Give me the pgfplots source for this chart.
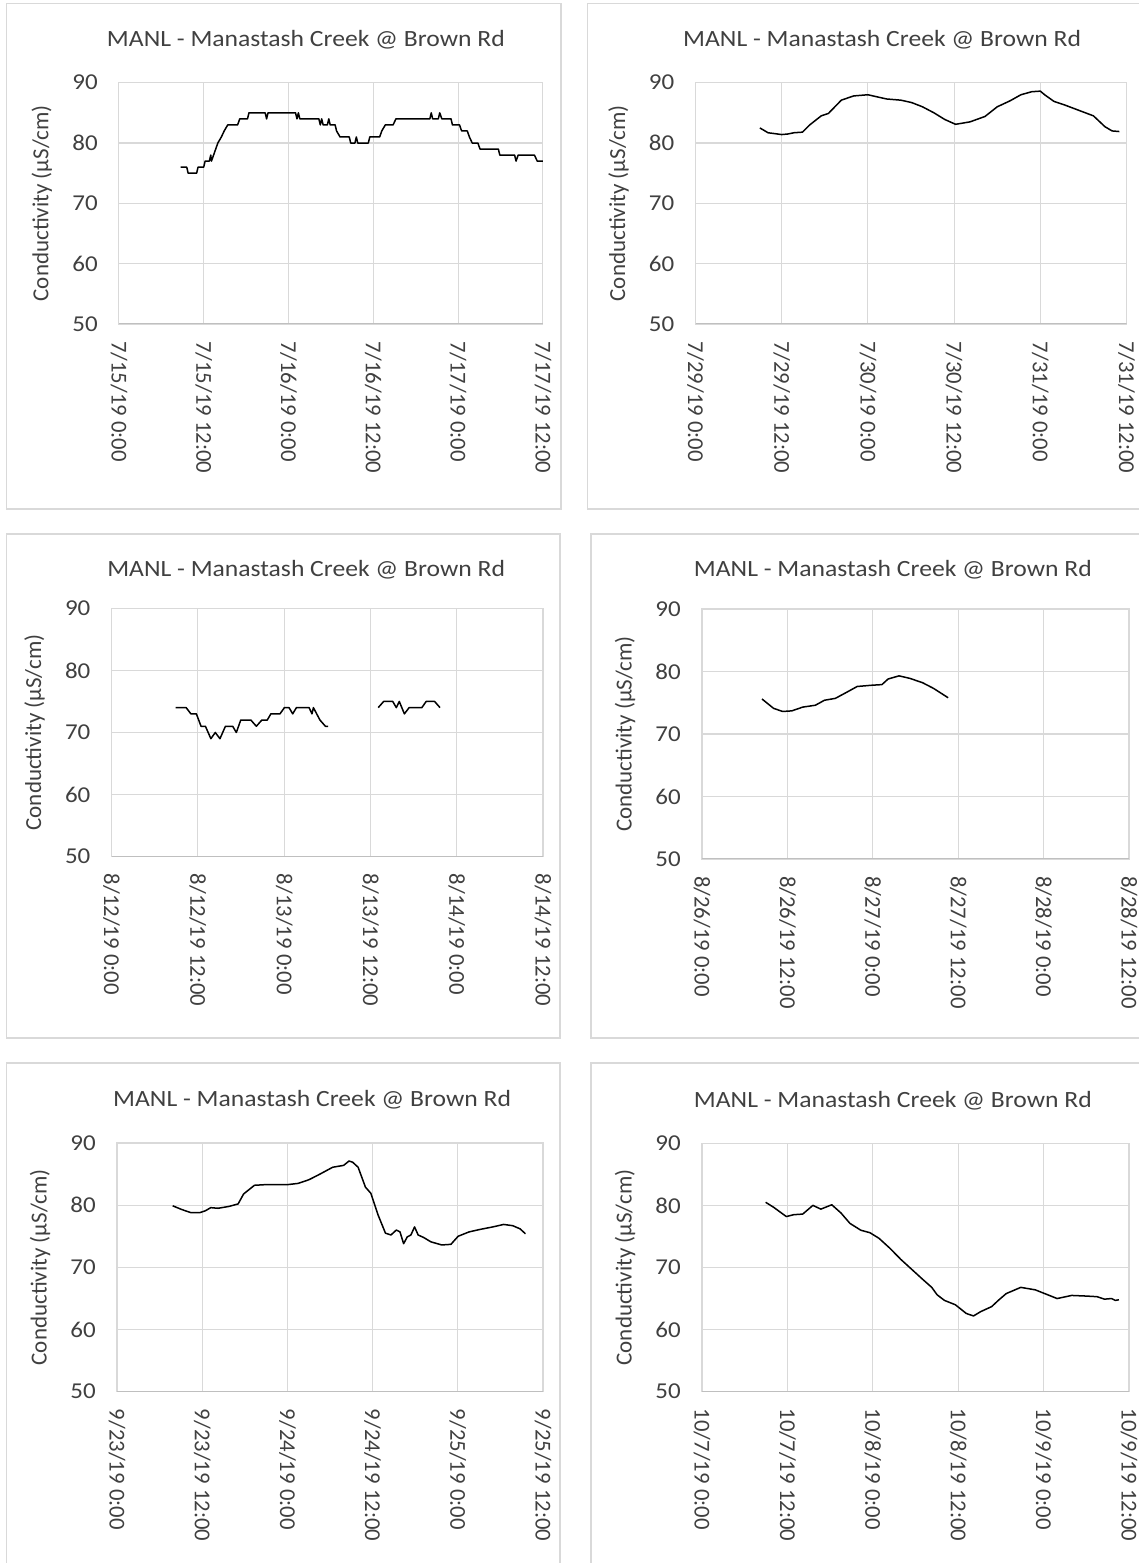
\documentclass[border=0pt]{standalone}
\usepackage{fontspec}
\setmainfont{Carlito}
\usepackage{graphicx}
\usepackage{pgfplots}
\pgfplotsset{compat=1.18}
\definecolor{gridgray}{HTML}{D9D9D9}
\definecolor{axgray}{HTML}{BFBFBF}
\definecolor{framegray}{HTML}{D9D9D9}
\definecolor{txt}{HTML}{404040}
\newcommand\titfont{\fontsize{23.3}{27}\selectfont}
\newcommand\tickfont{\fontsize{22.7}{26}\selectfont}
\newcommand\labfont{\fontsize{23}{26}\selectfont}
\pgfplotsset{
  panel/.style={
    scale only axis, xmin=0, xmax=60, ymin=50, ymax=90,
    xtick={0,12,24,36,48,60}, ytick={50,60,70,80,90},
    grid=major, major grid style={draw=gridgray, line width=1.1pt},
    axis line style={draw=gridgray, line width=1.1pt},
    tick style={draw=none}, major tick length=0pt,
    tick label style={font=\tickfont, text=txt},
    yticklabel style={anchor=east, inner sep=0pt},
    yticklabel shift=21pt,
    xticklabel style={rotate=-90, anchor=west, inner sep=0pt},
    xticklabel shift=17pt,
    yticklabel={\scalebox{1.1}[1]{\pgfmathparse{int(\tick)}\pgfmathresult}},
    every axis y label/.style={at={(axis description cs:0,0.5)}, xshift=-77pt, rotate=90, anchor=center, font=\labfont, text=txt},
    ylabel={Conductivity (µS/cm)},
    title={\scalebox{1.1}[1]{MANL - Manastash Creek @ Brown Rd}},
  },
  ttl/.style 2 args={every axis title/.style={at={(axis description cs:#1,1)}, anchor=base, yshift=#2, font=\titfont, text=txt}},
  series/.style={black, line width=1.5pt, no marks, line join=round},
}
\newcommand\xaxisline{\draw[axgray, line width=1.3pt] (axis cs:0,50) -- (axis cs:60,50);}
\begin{document}
\begin{tikzpicture}[x=1pt,y=1pt]
\useasboundingbox (0pt,0pt) rectangle (1138pt,1563pt);
% chart frames
\draw[framegray, line width=1.3pt] (6.5pt,1054pt) rectangle (561pt,1559.7pt);
\draw[framegray, line width=1.3pt] (587.5pt,1054pt) rectangle (1145pt,1559.7pt);
\draw[framegray, line width=1.3pt] (6.5pt,525pt) rectangle (560pt,1029pt);
\draw[framegray, line width=1.3pt] (591pt,525pt) rectangle (1145pt,1029pt);
\draw[framegray, line width=1.3pt] (6.5pt,-7pt) rectangle (560pt,500pt);
\draw[framegray, line width=1.3pt] (591pt,-7pt) rectangle (1145pt,500pt);

% Panel 1
\begin{axis}[panel, ttl={0.441}{36pt}, at={(118.9pt,1480.3pt)}, anchor=north west, width=424pt, height=241.3pt,
  xticklabels={7/15/19 0:00,7/15/19 12:00,7/16/19 0:00,7/16/19 12:00,7/17/19 0:00,7/17/19 12:00}]
\xaxisline
\addplot[series] coordinates {(8.75,76)(9.6,76)(9.8,75)(11.0,75)(11.2,76)(12.0,76)(12.2,77)(12.8,77)(13.0,78)(13.1,77)(13.4,78)(13.7,79)(14.0,80)(14.5,81)(14.9,82)(15.4,83)(16.8,83)(17.1,84)(18.2,84)(18.4,85)(20.7,85)(20.9,84)(21.1,85)(25.0,85)(25.2,84)(25.4,85)(25.6,84)(28.3,84)(28.5,83)(28.7,84)(28.9,83)(29.5,83)(29.7,84)(29.9,83)(30.6,83)(30.8,82)(31.3,81)(32.6,81)(32.8,80)(33.4,80)(33.6,81)(33.8,80)(35.3,80)(35.5,81)(36.9,81)(37.2,82)(37.7,83)(38.8,83)(39.2,84)(44.0,84)(44.2,85)(44.4,84)(45.2,84)(45.4,85)(45.7,84)(47.0,84)(47.2,83)(48.2,83)(48.5,82)(49.3,82)(49.6,81)(50.0,80)(50.8,80)(51.1,79)(53.7,79)(53.9,78)(56.0,78)(56.2,77)(56.5,78)(58.8,78)(59.2,77)(60,77)};
\end{axis}

% Panel 2
\begin{axis}[panel, ttl={0.433}{36pt}, at={(695.5pt,1480.3pt)}, anchor=north west, width=431pt, height=241.3pt,
  xticklabels={7/29/19 0:00,7/29/19 12:00,7/30/19 0:00,7/30/19 12:00,7/31/19 0:00,7/31/19 12:00}]
\xaxisline
\addplot[series] coordinates {(8.96,82.5)(10.1,81.7)(12.0,81.4)(12.9,81.5)(13.7,81.7)(14.9,81.8)(15.9,83.0)(17.5,84.5)(18.5,84.9)(20.3,87.1)(22.0,87.8)(24.0,88.0)(25.1,87.7)(26.6,87.3)(28.6,87.1)(30.1,86.7)(31.6,86.0)(33.2,85.0)(34.7,83.9)(36.2,83.1)(38.2,83.5)(40.3,84.4)(42.0,86.0)(43.8,87.0)(45.3,88.0)(46.8,88.5)(48.0,88.6)(48.6,88.0)(49.9,86.9)(51.4,86.3)(53.4,85.4)(55.4,84.5)(57.0,82.7)(58.0,82.0)(59.0,81.9)};
\end{axis}

% Panel 3
\begin{axis}[panel, ttl={0.451}{31.6pt}, at={(111.6pt,954.7pt)}, anchor=north west, width=431.4pt, height=248.4pt,
  xticklabels={8/12/19 0:00,8/12/19 12:00,8/13/19 0:00,8/13/19 12:00,8/14/19 0:00,8/14/19 12:00}]
\xaxisline
\addplot[series] coordinates {(8.9,74)(10.37,74)(11.03,73)(11.79,73)(12.44,71)(13.05,71)(13.81,69)(14.42,70)(15.07,69)(15.83,71)(16.84,71)(17.35,70)(17.96,72)(19.37,72)(20.13,71)(20.89,72)(21.65,72)(22.15,73)(23.42,73)(24.03,74)(24.68,74)(25.19,73)(25.70,74)(27.47,74)(27.87,73)(28.07,74)(28.98,72)(29.74,71)(30.10,71)};
\addplot[series] coordinates {(37.08,74)(37.84,75)(39.1,75)(39.6,74)(40.01,75)(40.72,73)(41.38,74)(43.15,74)(43.75,75)(44.92,75)(45.68,74)};
\end{axis}

% Panel 4
\begin{axis}[panel, ttl={0.447}{32pt}, at={(702pt,954pt)}, anchor=north west, width=427pt, height=250pt,
  xticklabels={8/26/19 0:00,8/26/19 12:00,8/27/19 0:00,8/27/19 12:00,8/28/19 0:00,8/28/19 12:00}]
\xaxisline
\addplot[series] coordinates {(8.43,75.6)(10.06,74.1)(11.34,73.6)(12.62,73.7)(14.15,74.3)(15.93,74.6)(17.21,75.4)(18.74,75.7)(20.53,76.8)(21.8,77.6)(23.85,77.8)(25.28,77.9)(26.15,78.8)(27.68,79.3)(29.21,78.9)(31.0,78.2)(32.53,77.3)(34.58,75.8)};
\end{axis}

% Panel 5
\begin{axis}[panel, ttl={0.458}{36pt}, at={(117pt,420pt)}, anchor=north west, width=426pt, height=248.7pt,
  xticklabels={9/23/19 0:00,9/23/19 12:00,9/24/19 0:00,9/24/19 12:00,9/25/19 0:00,9/25/19 12:00}]
\xaxisline
\addplot[series] coordinates {(7.84,79.9)(9.12,79.3)(10.4,78.8)(11.68,78.8)(12.45,79.1)(13.2,79.6)(14.24,79.5)(15.78,79.8)(17.06,80.2)(17.83,81.8)(19.36,83.2)(20.9,83.3)(23.98,83.3)(25.51,83.5)(27.05,84.1)(28.59,85.0)(30.38,86.1)(31.92,86.4)(32.68,87.1)(33.2,86.9)(33.96,86.1)(34.99,82.9)(35.76,81.9)(36.78,78.4)(37.81,75.5)(38.58,75.2)(39.34,76.0)(39.86,75.7)(40.37,73.8)(40.88,74.9)(41.39,75.2)(41.91,76.5)(42.42,75.2)(43.19,74.8)(44.21,74.1)(45.75,73.6)(47.03,73.7)(48.05,75.0)(49.59,75.7)(51.13,76.1)(52.92,76.5)(54.46,76.9)(55.74,76.7)(56.76,76.2)(57.53,75.4)};
\end{axis}

% Panel 6
\begin{axis}[panel, ttl={0.447}{36pt}, at={(702pt,419.7pt)}, anchor=north west, width=427pt, height=248.4pt,
  xticklabels={10/7/19 0:00,10/7/19 12:00,10/8/19 0:00,10/8/19 12:00,10/9/19 0:00,10/9/19 12:00}]
\xaxisline
\addplot[series] coordinates {(8.94,80.5)(10.06,79.7)(11.85,78.2)(12.87,78.5)(14.15,78.6)(15.58,80.0)(16.7,79.4)(18.23,80.1)(19.51,78.8)(20.79,77.1)(22.32,76.0)(23.6,75.6)(24.87,74.7)(26.4,73.1)(27.94,71.3)(29.47,69.7)(31.0,68.1)(32.28,66.8)(33.04,65.6)(34.07,64.7)(35.6,64.0)(37.13,62.6)(38.15,62.2)(39.17,62.9)(40.7,63.7)(41.73,64.8)(42.75,65.8)(44.79,66.8)(46.83,66.4)(48.37,65.7)(49.9,65.0)(51.94,65.5)(53.98,65.4)(55.51,65.3)(56.54,64.9)(57.56,65.0)(58.07,64.7)(58.58,64.8)};
\end{axis}
\end{tikzpicture}
\end{document}
